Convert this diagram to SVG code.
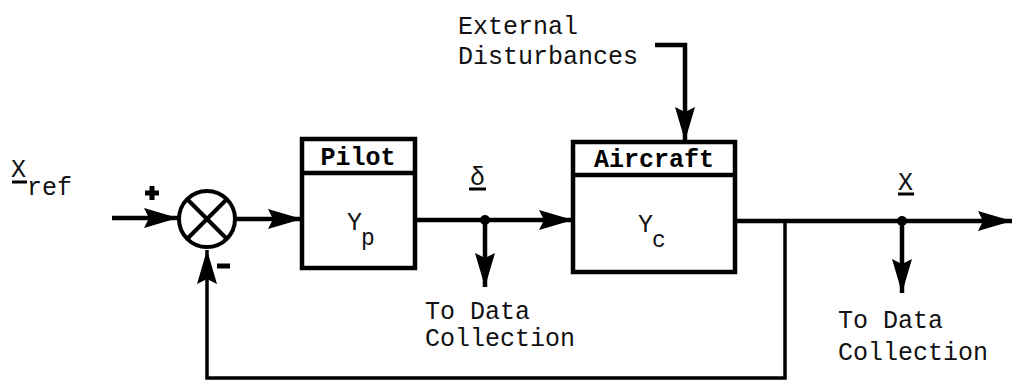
<svg xmlns="http://www.w3.org/2000/svg" width="1014" height="383" viewBox="0 0 1014 383">
  <style>
    .bg { fill: #ffffff; }
    .line { fill: none; stroke: #000; stroke-width: 4.5; stroke-linejoin: miter; }
    .thin { fill: none; stroke: #000; stroke-width: 3.5; }
    .box { fill: #ffffff; stroke: #000; stroke-width: 4.5; }
    .txt { font-family: "Liberation Mono", "DejaVu Sans Mono", monospace; font-size: 25px; fill: #111; }
    .hdr { font-family: "Liberation Mono", "DejaVu Sans Mono", monospace; font-size: 25px; font-weight: bold; fill: #000; }
    .sub { font-family: "Liberation Mono", "DejaVu Sans Mono", monospace; font-size: 23px; fill: #111; }
  </style>
  <defs>
    <marker id="arrow" markerUnits="userSpaceOnUse" markerWidth="36" markerHeight="22" refX="34" refY="11" orient="auto">
      <path d="M0,1 L34,11 L0,21 L5,11 Z" fill="#000"/>
    </marker>
  </defs>

  <rect class="bg" x="0" y="0" width="1014" height="383"/>

  <!-- signal lines -->
  <g id="connectors">
    <line class="line" x1="112" y1="218" x2="178" y2="218" marker-end="url(#arrow)"/>
    <line class="line" x1="236" y1="219" x2="302" y2="219" marker-end="url(#arrow)"/>
    <line class="line" x1="415" y1="220" x2="573" y2="220" marker-end="url(#arrow)"/>
    <line class="line" x1="485" y1="220" x2="485" y2="287" marker-end="url(#arrow)"/>
    <circle cx="485" cy="220" r="5" fill="#000"/>
    <line class="line" x1="735" y1="221" x2="1012" y2="221" marker-end="url(#arrow)"/>
    <line class="line" x1="902" y1="221" x2="902" y2="293" marker-end="url(#arrow)"/>
    <circle cx="902" cy="221" r="5" fill="#000"/>
    <path class="thin" d="M785,221 V378 H207 V250" marker-end="url(#arrow)"/>
    <path class="line" d="M655,45 H685 V141" marker-end="url(#arrow)"/>
  </g>

  <!-- summing junction -->
  <g id="sum">
    <circle cx="207" cy="219" r="28" fill="#fff" stroke="#000" stroke-width="4"/>
    <line x1="187" y1="199" x2="227" y2="239" stroke="#000" stroke-width="4"/>
    <line x1="227" y1="199" x2="187" y2="239" stroke="#000" stroke-width="4"/>
    <path d="M145,193 H159 M152,186 V200" stroke="#000" stroke-width="5" fill="none"/>
    <line x1="217" y1="266" x2="230" y2="266" stroke="#000" stroke-width="5"/>
  </g>

  <!-- pilot block -->
  <g id="pilot">
    <rect class="box" x="302" y="139" width="113" height="129"/>
    <line x1="302" y1="173" x2="415" y2="173" stroke="#000" stroke-width="4.5"/>
    <text class="hdr" x="358" y="165" text-anchor="middle">Pilot</text>
    <text class="txt" x="347" y="230">Y</text>
    <text class="sub" x="361" y="245">p</text>
  </g>

  <!-- aircraft block -->
  <g id="aircraft">
    <rect class="box" x="573" y="142" width="162" height="130"/>
    <line x1="573" y1="175" x2="735" y2="175" stroke="#000" stroke-width="4.5"/>
    <text class="hdr" x="654" y="167" text-anchor="middle">Aircraft</text>
    <text class="txt" x="638" y="232">Y</text>
    <text class="sub" x="652" y="247">c</text>
  </g>

  <!-- signal labels -->
  <g id="labels">
    <text class="txt" x="11" y="177">X</text>
    <line x1="12" y1="182" x2="27" y2="182" stroke="#000" stroke-width="3"/>
    <text class="txt" x="27" y="195">ref</text>

    <text class="txt" x="470" y="185">δ</text>
    <line x1="469" y1="189" x2="486" y2="189" stroke="#000" stroke-width="3"/>

    <text class="txt" x="898" y="190">X</text>
    <line x1="898" y1="194" x2="914" y2="194" stroke="#000" stroke-width="3"/>

    <text class="txt" x="458" y="34">External</text>
    <text class="txt" x="458" y="64">Disturbances</text>

    <text class="txt" x="425" y="319">To Data</text>
    <text class="txt" x="425" y="346">Collection</text>

    <text class="txt" x="838" y="328">To Data</text>
    <text class="txt" x="838" y="360">Collection</text>
  </g>
</svg>
